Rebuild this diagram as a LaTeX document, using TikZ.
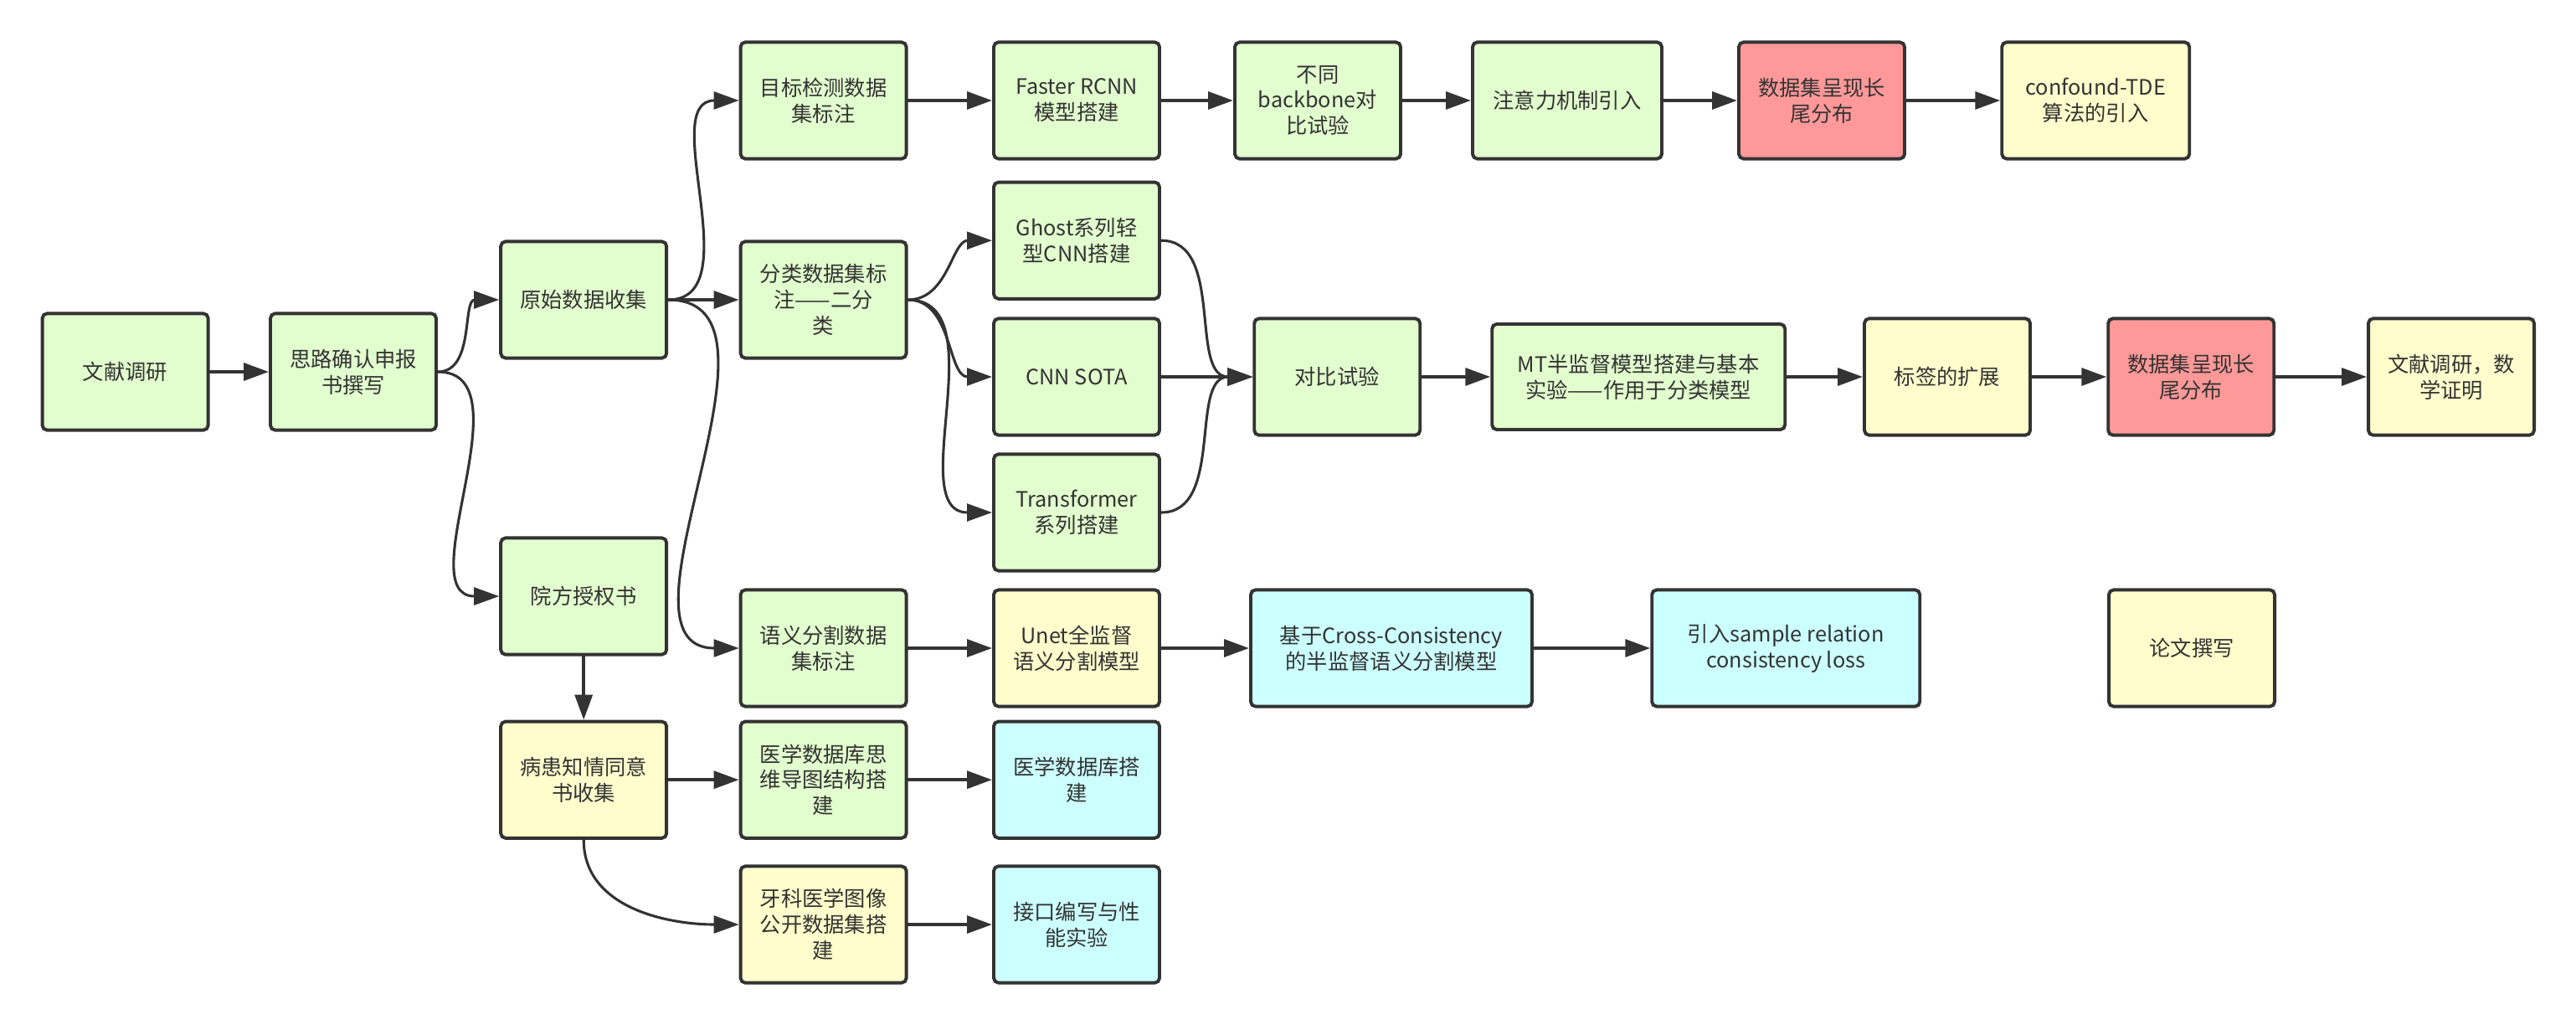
\documentclass[tikz,border=0pt]{standalone}
\usepackage{fontspec}
\newfontfamily\cjk{Noto Sans CJK SC}
\usetikzlibrary{arrows.meta}
\definecolor{ink}{HTML}{333333}
\definecolor{boxgreen}{HTML}{E2FDCE}
\definecolor{boxyellow}{HTML}{FFFDCC}
\definecolor{boxred}{HTML}{FF9999}
\definecolor{boxcyan}{HTML}{CCFFFF}

\begin{document}
\begin{tikzpicture}[>={Triangle[length=0.75cm,width=0.52cm]},font=\cjk\fontsize{18}{22}\selectfont,line cap=round,
  box/.style={draw=ink,text=ink,line width=2.8pt,rounded corners=4pt,align=center,
    minimum width=4.95cm,minimum height=3.48cm,inner sep=2pt},
  gbox/.style={box,fill=boxgreen},
  ybox/.style={box,fill=boxyellow},
  rbox/.style={box,fill=boxred},
  cbox/.style={box,fill=boxcyan},
  link/.style={->,draw=ink,line width=2.8pt},
  curve/.style={->,draw=ink,line width=2.2pt}]
\useasboundingbox (0,0) rectangle (76.925,-30.6);
% left part
\node[gbox] (lit) at (3.74,-11.10) {文献调研};
\node[gbox] (plan) at (10.55,-11.10) {思路确认申报\\书撰写};
\node[gbox] (raw) at (17.43,-8.95) {原始数据收集};
\node[gbox] (auth) at (17.43,-17.80) {院方授权书};
\node[ybox] (consent) at (17.43,-23.28) {病患知情同意\\书收集};
% data sets
\node[gbox] (detlab) at (24.59,-3.00) {目标检测数据\\集标注};
\node[gbox] (clslab) at (24.59,-8.95) {分类数据集标\\注——二分\\类};
\node[gbox] (seglab) at (24.59,-19.35) {语义分割数据\\集标注};
\node[gbox] (dbmap) at (24.59,-23.28) {医学数据库思\\维导图结构搭\\建};
\node[ybox] (dental) at (24.59,-27.60) {牙科医学图像\\公开数据集搭\\建};
% models
\node[gbox] (frcnn) at (32.15,-3.00) {Faster RCNN\\模型搭建};
\node[gbox] (ghost) at (32.15,-7.18) {Ghost系列轻\\型CNN搭建};
\node[gbox] (sota) at (32.15,-11.25) {CNN SOTA};
\node[gbox] (trans) at (32.15,-15.30) {Transformer\\系列搭建};
\node[ybox] (unet) at (32.15,-19.35) {Unet全监督\\语义分割模型};
\node[cbox] (dbbuild) at (32.15,-23.28) {医学数据库搭\\建};
\node[cbox] (iface) at (32.15,-27.60) {接口编写与性\\能实验};
% detection row
\node[gbox] (backbone) at (39.35,-3.00) {不同\\backbone对\\比试验};
\node[gbox,minimum width=5.65cm] (attn) at (46.80,-3.00) {注意力机制引入};
\node[rbox] (tail1) at (54.40,-3.00) {数据集呈现长\\尾分布};
\node[ybox,minimum width=5.6cm] (tde) at (62.58,-3.00) {confound-TDE\\算法的引入};
% classification row
\node[gbox] (compare) at (39.93,-11.25) {对比试验};
\node[gbox,minimum width=8.75cm,minimum height=3.15cm] (mt) at (48.93,-11.25) {MT半监督模型搭建与基本\\实验——作用于分类模型};
\node[ybox] (label) at (58.15,-11.25) {标签的扩展};
\node[rbox] (tail2) at (65.43,-11.25) {数据集呈现长\\尾分布};
\node[ybox] (proof) at (73.20,-11.25) {文献调研，数\\学证明};
% segmentation row
\node[cbox,minimum width=8.4cm] (cct) at (41.55,-19.35) {基于Cross-Consistency\\的半监督语义分割模型};
\node[cbox,minimum width=8.0cm] (src) at (53.33,-19.35) {引入sample relation\\consistency loss};
\node[ybox] (thesis) at (65.45,-19.35) {论文撰写};

% connectors
\draw[link] (lit) -- (plan);
\draw[curve] (plan.east) to[out=0,in=180] (raw.west);
\draw[curve] (plan.east) to[out=0,in=180] (auth.west);
\draw[link] (auth) -- (consent);
\draw[curve] (raw.east) to[out=0,in=180] (detlab.west);
\draw[link] (raw) -- (clslab);
\draw[curve] (raw.east) to[out=0,in=180] (seglab.west);
\draw[link] (consent) -- (dbmap);
\draw[curve] (consent.south) to[out=-90,in=180] (dental.west);
\draw[link] (detlab) -- (frcnn);
\draw[link] (frcnn) -- (backbone);
\draw[link] (backbone) -- (attn);
\draw[link] (attn) -- (tail1);
\draw[link] (tail1) -- (tde);
\draw[curve] (clslab.east) to[out=0,in=180] (ghost.west);
\draw[curve] (clslab.east) to[out=0,in=180] (sota.west);
\draw[curve] (clslab.east) to[out=0,in=180] (trans.west);
\draw[curve] (ghost.east) to[out=0,in=180] (compare.west);
\draw[curve] (sota) -- (compare);
\draw[curve] (trans.east) to[out=0,in=180] (compare.west);
\draw[link] (compare) -- (mt);
\draw[link] (mt) -- (label);
\draw[link] (label) -- (tail2);
\draw[link] (tail2) -- (proof);
\draw[link] (seglab) -- (unet);
\draw[link] (unet) -- (cct);
\draw[link] (cct) -- (src);
\draw[link] (dbmap) -- (dbbuild);
\draw[link] (dental) -- (iface);
\end{tikzpicture}
\end{document}
